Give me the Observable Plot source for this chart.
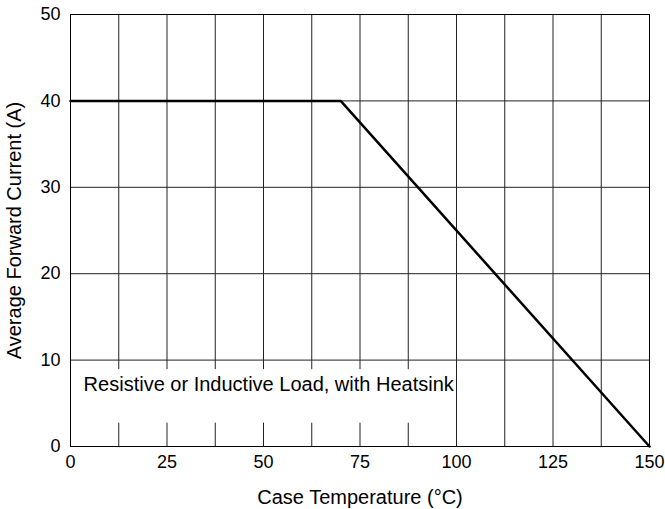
<!DOCTYPE html>
<html>
<head>
<meta charset="utf-8">
<script src="https://cdn.jsdelivr.net/npm/d3@7"></script>
<script src="https://cdn.jsdelivr.net/npm/@observablehq/plot@0.6"></script>
<style>
  html, body { margin: 0; padding: 0; background: #fff; }
</style>
</head>
<body>
<div id="chart"></div>
<script>
// Derating curve
const caseTemp = [0, 70, 150];          // °C
const forwardCurrent = [40, 40, 0];     // A

const xTicks = [0, 25, 50, 75, 100, 125, 150];
const yTicks = [0, 10, 20, 30, 40, 50];
const xGrid = [12.5, 25, 37.5, 50, 62.5, 75, 87.5, 100, 112.5, 125, 137.5];
const yGrid = [10, 20, 30, 40];

const xTitle = "Case Temperature (°C)";
const yTitle = "Average Forward Current (A)";
const noteText = "Resistive or Inductive Load, with Heatsink";
const noteBox = [{x1: 0, x2: 99.8, y1: 2.7, y2: 8.9}];
const notePos = [{x: 3.4, y: 7.2}];

const data = caseTemp.map((t, i) => ({t, a: forwardCurrent[i]}));

const chart = Plot.plot({
  width: 665,
  height: 509,
  marginLeft: 70,
  marginRight: 16,
  marginTop: 14,
  marginBottom: 63,
  style: {fontFamily: "'Liberation Sans', Arial, sans-serif", fontSize: "18px", color: "#000", background: "#fff"},
  x: {domain: [0, 150]},
  y: {domain: [0, 50]},
  marks: [
    Plot.ruleX(xGrid, {stroke: "#222", strokeWidth: 1}),
    Plot.ruleY(yGrid, {stroke: "#222", strokeWidth: 1}),
    Plot.rect(noteBox, {x1: "x1", x2: "x2", y1: "y1", y2: "y2", fill: "#fff"}),
    Plot.text(notePos, {x: "x", y: "y", text: () => noteText, textAnchor: "start", fontSize: 20, fill: "#000"}),
    Plot.line(data, {x: "t", y: "a", stroke: "#000", strokeWidth: 2.5}),
    Plot.frame({stroke: "#000", strokeWidth: 1}),
    Plot.axisX(xTicks, {tickSize: 0, tickPadding: 9, label: null, fontSize: 18}),
    Plot.axisY(yTicks, {tickSize: 0, tickPadding: 10, label: null, fontSize: 18}),
    Plot.text([xTitle], {frameAnchor: "bottom", lineAnchor: "bottom", textAnchor: "middle", dy: 57, fontSize: 20, fill: "#000"}),
    Plot.text([yTitle], {frameAnchor: "left", lineAnchor: "top", textAnchor: "middle", rotate: -90, dx: -64, fontSize: 20, fill: "#000"})
  ]
});
document.getElementById("chart").appendChild(chart);
</script>
</body>
</html>
